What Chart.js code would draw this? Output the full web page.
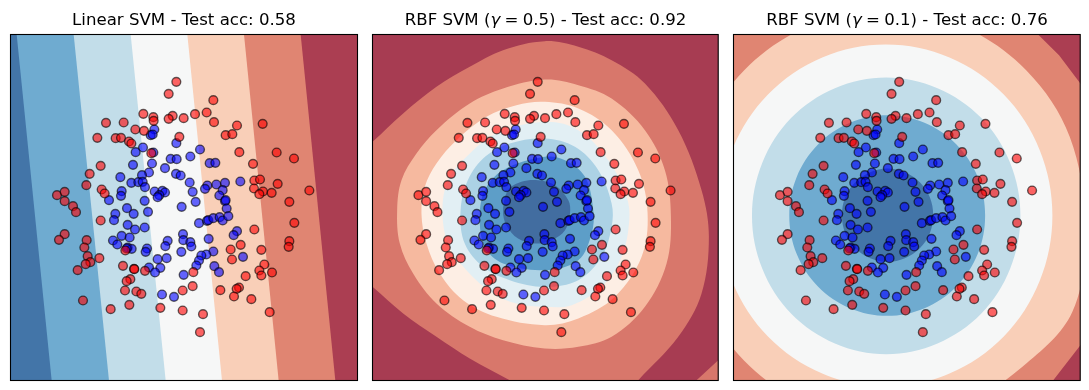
<!DOCTYPE html>
<html lang="en">
<head>
<meta charset="UTF-8">
<title>SVM decision boundaries</title>
<script src="https://cdn.jsdelivr.net/npm/chart.js"></script>
<style>
    html, body { margin: 0; padding: 0; background: #fff; }
    #wrap { position: relative; width: 1089px; height: 390px; overflow: hidden; }
    canvas { position: absolute; top: 0; }
    .title {
        position: absolute; top: 10px; height: 20px; line-height: 20px;
        font-family: "DejaVu Sans", sans-serif; font-size: 16.6px;
        text-align: center; white-space: nowrap; color: #000;
    }
    .title span { margin: 0 -1px; }
</style>
</head>
<body>
<div id="wrap">
    <canvas id="c1" width="365" height="390" style="left:0"></canvas>
    <canvas id="c2" width="362" height="390" style="left:362px"></canvas>
    <canvas id="c3" width="362" height="390" style="left:724px"></canvas>
    <div class="title" style="left:10.5px;width:347px">Linear SVM - Test acc: 0.58</div>
    <div class="title" style="left:372.5px;width:346px">RBF SVM (<i>γ</i><span> = </span>0.5) - Test acc: 0.92</div>
    <div class="title" style="left:733.5px;width:347px">RBF SVM (<i>γ</i><span> = </span>0.1) - Test acc: 0.76</div>
</div>
<script>
// samples, same in all three panels
const redX = [-0.23,-0.46,0.88,-1.22,-0.92,-0.91,-0.34,-0.46,-0.01,0.33,0.68,0.90,-2.34,-1.81,-1.46,-1.20,1.59,2.36,1.25,1.45,-2.60,-2.05,-1.89,-1.65,-1.58,-0.14,-0.98,1.66,2.78,3.30,2.07,-2.50,-2.83,-2.93,2.11,2.28,2.81,2.10,2.37,2.26,2.63,3.76,-2.47,-2.38,-3.81,-3.58,-3.58,-3.33,-3.24,3.16,-2.50,3.31,2.11,-3.58,-3.75,-2.92,-2.99,3.16,3.14,-2.89,-2.54,-2.81,-2.95,-3.19,1.40,1.70,2.32,1.44,2.41,2.26,2.64,2.32,1.85,-1.83,-1.50,-1.49,-1.17,0.28,-1.61,-1.72,-1.77,-1.43,-1.28,0.26,-0.04,1.09,1.65,1.58,1.50,2.02,2.57,-3.03,-2.20,-1.64,-0.71,-0.04,0.57,0.48,-1.76];
const redY = [3.77,3.41,3.22,2.81,2.71,2.60,2.75,2.66,2.68,2.80,2.85,2.56,2.54,2.55,2.34,2.30,2.46,2.51,2.17,2.20,2.09,2.08,2.09,1.98,1.92,2.12,1.63,1.66,1.65,1.47,1.31,1.25,1.01,0.67,0.81,0.84,0.71,0.57,0.48,0.40,0.44,0.51,0.54,0.42,0.37,0.47,0.19,0.04,-0.14,0.17,-0.39,-0.46,-0.66,-0.80,-0.97,-0.98,-1.20,-1.01,-1.18,-1.46,-1.52,-1.64,-1.70,-1.88,-1.26,-1.12,-1.27,-1.56,-1.71,-1.89,-1.95,-2.04,-2.06,-1.75,-1.84,-1.85,-1.90,-1.94,-2.15,-2.21,-2.49,-2.52,-2.59,-2.36,-2.49,-2.48,-2.40,-2.44,-2.67,-2.75,-3.14,-2.79,-3.05,-2.92,-3.01,-3.09,-3.20,-3.74,-1.29];
const blueX = [-0.89,-1.00,-0.94,-0.23,-1.23,-1.45,0.48,-0.92,0.19,-0.40,-0.22,-1.53,-0.96,0.77,0.94,-0.57,-1.05,-0.24,-0.10,-1.91,-1.26,-1.58,-1.37,-1.24,-1.17,0.17,0.70,0.63,0.97,1.23,1.69,1.16,-1.87,-1.89,-0.88,-0.65,-0.57,-0.74,-0.79,0.26,-2.25,-1.18,0.35,1.06,1.23,1.25,1.28,-0.07,-1.71,-1.51,-1.08,-2.06,-2.10,-1.69,-1.47,-1.18,0.45,0.69,0.73,0.88,1.07,1.16,1.33,1.59,1.49,-0.03,-1.87,-1.63,-2.13,-2.00,-0.49,-0.02,0.19,0.74,-0.56,0.22,-1.69,-1.57,-1.72,-1.11,-1.15,-0.08,0.88,0.67,0.52,1.77,-0.79,-0.52,0.45,0.37,0.91,1.05,-0.71,-1.05,-0.87,-0.01,-0.66,-0.30];
const blueY = [2.34,2.17,2.19,1.93,1.80,1.66,1.74,1.65,1.53,1.46,1.45,1.28,1.32,1.33,1.34,1.18,1.05,1.01,0.96,0.91,0.97,0.74,0.76,0.77,0.61,0.75,0.66,0.56,0.69,0.74,0.78,0.52,0.49,0.35,0.48,0.50,0.45,0.37,0.31,0.47,0.22,0.20,0.17,0.36,0.19,0.22,-0.03,0.02,-0.02,-0.19,-0.13,-0.19,-0.38,-0.52,-0.66,-0.60,-0.47,-0.40,-0.38,-0.32,-0.29,-0.39,-0.26,-0.71,-0.83,-0.80,-0.85,-0.90,-0.99,-1.11,-1.00,-0.98,-1.04,-0.94,-1.16,-1.17,-1.20,-1.24,-1.23,-1.23,-1.33,-1.33,-1.32,-1.41,-1.44,-1.48,-1.55,-1.52,-1.59,-1.74,-1.76,-1.94,-1.81,-1.80,-1.95,-2.02,-2.61,-2.68];

// linear panel: band edges where they meet the top and bottom of the frame
const linearTopX = [-5.02,-3.31,-1.60,0.10,1.80,3.50];
const linearBottomX = [-3.97,-2.25,-0.55,1.14,2.84,4.54];
const linearColors = ["#4375a8","#6fabd0","#c2dde9","#f6f7f7","#f9cfb8","#e08572","#ab3e52"];

// rbf 0.5 panel, outer to inner
const rbf5Back = [[-6,6],[6,6],[6,-6],[-6,-6]];
const rbf5Outer = [[-6.02,1.27],[-5.19,1.97],[-4.27,2.82],[-3.27,3.62],[-2.27,4.22],[-1.27,4.72],[-0.02,4.99],[0.99,4.82],[1.99,4.42],[2.99,3.72],[3.99,2.32],[4.69,0.52],[4.91,-0.88],[4.69,-2.58],[3.99,-3.88],[2.79,-5.18],[2.39,-5.61],[-0.42,-5.53],[-1.07,-5.18],[-2.27,-4.53],[-3.27,-3.88],[-4.27,-3.18],[-5.19,-2.38],[-6.02,-1.68]];
const rbf5Corner = [[4.08,-5.58],[4.54,-5.18],[5.19,-4.58],[5.6,-4.2],[5.6,-5.6]];
const rbf5Salmon = [[-4.45,-0.08],[-4.32,0.82],[-3.87,1.62],[-3.27,2.32],[-2.27,3.12],[-1.27,3.57],[-0.02,3.84],[0.99,3.67],[1.99,3.27],[2.99,2.32],[3.59,1.12],[3.77,-0.28],[3.64,-1.68],[2.99,-2.98],[1.99,-3.88],[0.99,-4.18],[-0.02,-4.23],[-1.27,-3.98],[-2.27,-3.58],[-3.27,-2.88],[-3.97,-1.98],[-4.37,-1.08]];
const rbf5Cream = [[-3.72,-0.18],[-3.62,0.62],[-3.27,1.32],[-2.67,2.02],[-1.77,2.72],[-0.87,3.07],[-0.02,3.17],[0.99,2.97],[1.99,2.32],[2.79,1.12],[3.07,-0.18],[2.89,-1.48],[2.09,-2.68],[0.99,-3.33],[-0.02,-3.53],[-1.47,-3.28],[-2.47,-2.78],[-3.17,-1.98],[-3.57,-1.08]];
const rbf5Pale = [[-3.09,-0.08],[-2.92,0.82],[-2.37,1.52],[-1.47,2.22],[-0.02,2.57],[0.99,2.32],[1.89,1.42],[2.44,0.32],[2.52,-0.38],[2.29,-1.48],[1.69,-2.38],[0.79,-2.93],[-0.02,-2.98],[-0.87,-2.88],[-1.57,-2.58],[-2.37,-1.88],[-2.92,-1.08]];
const rbf5Light = [[-2.55,-0.18],[-2.37,0.72],[-1.87,1.47],[-1.07,1.92],[-0.02,2.07],[0.89,1.82],[1.59,1.12],[1.99,0.12],[1.99,-0.58],[1.69,-1.48],[0.99,-2.18],[-0.02,-2.38],[-1.07,-2.18],[-1.87,-1.78],[-2.42,-1.08]];
const rbf5Mid = [[-1.97,-0.28],[-1.82,0.52],[-1.27,1.12],[-0.02,1.52],[0.59,1.42],[1.19,0.92],[1.44,-0.08],[1.39,-0.78],[0.99,-1.58],[-0.02,-1.88],[-1.27,-1.68],[-1.82,-1.18]];
const rbf5Core = [[-1.27,-0.08],[-1.12,0.52],[-0.72,0.77],[-0.22,0.82],[0.29,0.67],[0.69,0.22],[0.74,-0.18],[0.59,-0.68],[0.19,-0.98],[-0.32,-1.08],[-0.82,-0.93],[-1.17,-0.53]];

// rbf 0.1 panel, outer to inner
const rbf1Back = [[-6,6],[6,6],[6,-6],[-6,-6]];
const rbf1CornerTop = [[3.47,5.62],[3.94,5.19],[4.57,4.57],[5.21,3.72],[5.6,3.2],[5.6,5.6]];
const rbf1CornerBottom = [[4.07,-5.6],[4.39,-5.19],[5.21,-4.13],[5.6,-3.6],[5.6,-5.6]];
const rbf1Peach = [[5.35,-0.58],[4.89,2.12],[3.59,4.11],[1.65,5.44],[-0.65,5.91],[-2.95,5.44],[-4.89,4.11],[-6.19,2.12],[-6.65,-0.24],[-6.19,-2.60],[-4.89,-4.59],[-2.95,-5.92],[-0.65,-6.39],[1.65,-5.92],[3.47,-4.78],[4.97,-3.13]];
const rbf1White = [[4.37,-0.24],[3.99,1.72],[2.91,3.39],[1.28,4.50],[-0.63,4.89],[-2.54,4.50],[-4.17,3.39],[-5.25,1.72],[-5.63,-0.24],[-5.25,-2.20],[-4.17,-3.87],[-2.54,-4.98],[-0.63,-5.37],[1.28,-4.98],[2.91,-3.87],[3.99,-2.20]];
const rbf1Light = [[3.41,-0.25],[3.10,1.34],[2.23,2.69],[0.92,3.58],[-0.62,3.90],[-2.16,3.58],[-3.47,2.69],[-4.34,1.34],[-4.65,-0.25],[-4.34,-1.84],[-3.47,-3.19],[-2.16,-4.08],[-0.62,-4.40],[0.92,-4.08],[2.23,-3.19],[3.10,-1.84]];
const rbf1Mid = [[2.35,-0.24],[2.13,0.91],[1.49,1.89],[0.53,2.54],[-0.59,2.77],[-1.71,2.54],[-2.67,1.89],[-3.31,0.91],[-3.53,-0.24],[-3.31,-1.39],[-2.67,-2.37],[-1.71,-3.02],[-0.59,-3.25],[0.53,-3.02],[1.49,-2.37],[2.13,-1.39]];
const rbf1Core = [[0.79,-0.23],[0.69,0.31],[0.39,0.76],[-0.06,1.06],[-0.58,1.17],[-1.10,1.06],[-1.55,0.76],[-1.85,0.31],[-1.95,-0.23],[-1.85,-0.77],[-1.55,-1.22],[-1.10,-1.52],[-0.58,-1.63],[-0.06,-1.52],[0.39,-1.22],[0.69,-0.77]];

function toPoints(list) {
    return list.map(p => ({ x: p[0], y: p[1] }));
}

// curved bands repeat their ends so the spline closes without a kink
function band(list, color, tension) {
    const n = list.length;
    const loop = tension ? [list[n - 1], ...list, list[0], list[1]] : list;
    return { data: toPoints(loop), color: color, tension: tension };
}

const frameBox = {
    id: "frameBox",
    afterDatasetsDraw(chart) {
        const a = chart.chartArea, ctx = chart.ctx;
        ctx.save();
        ctx.strokeStyle = "#000";
        ctx.lineWidth = 1.1;
        ctx.strokeRect(a.left, a.top, a.right - a.left, a.bottom - a.top);
        ctx.restore();
    }
};

function drawPanel(id, bands, pad, xHalf, yHalf) {
    const datasets = [];
    bands.forEach((b, i) => {
        datasets.push({
            data: b.data,
            showLine: true,
            fill: "shape",
            tension: b.tension,
            capBezierPoints: false,
            backgroundColor: b.color,
            borderColor: b.color,
            borderWidth: 0,
            pointRadius: 0,
            order: 100 - i
        });
    });
    // samples on top of the bands
    [[blueX, blueY, "rgba(0,0,255,0.6)", 2], [redX, redY, "rgba(255,0,0,0.6)", 1]].forEach(s => {
        datasets.push({
            data: s[0].map((x, i) => ({ x: x, y: s[1][i] })),
            backgroundColor: s[2],
            borderColor: "rgba(0,0,0,0.6)",
            borderWidth: 1.39,
            pointRadius: 4.4,
            order: s[3]
        });
    });
    new Chart(document.getElementById(id), {
        type: "scatter",
        data: { datasets: datasets },
        options: {
            responsive: false,
            animation: false,
            events: [],
            layout: { padding: pad },
            plugins: { legend: { display: false }, tooltip: { enabled: false } },
            scales: {
                x: { display: false, min: -xHalf, max: xHalf },
                y: { display: false, min: -yHalf, max: yHalf }
            }
        },
        plugins: [frameBox]
    });
}

// linear panel bands come from the two edge lists
const linearBands = [band([[-6,6],[6,6],[6,-6],[-6,-6]], linearColors[0], 0)];
linearTopX.forEach((top, i) => {
    linearBands.push(band([[top,5.19],[linearBottomX[i],-5.19],[6,-5.19],[6,5.19]], linearColors[i + 1], 0));
});

drawPanel("c1", linearBands, { left: 10.5, right: 7.5, top: 34.5, bottom: 9.5 }, 5.205, 5.19);

drawPanel("c2", [
    band(rbf5Back, "#a73c52", 0),
    band(rbf5Outer, "#d8776b", 0.35),
    band(rbf5Corner, "#d8776b", 0),
    band(rbf5Salmon, "#f6b99f", 0.35),
    band(rbf5Cream, "#fdeee4", 0.35),
    band(rbf5Pale, "#e2eff4", 0.35),
    band(rbf5Light, "#acd2e5", 0.35),
    band(rbf5Mid, "#5d9ec8", 0.35),
    band(rbf5Core, "#426da0", 0.35)
], { left: 10.5, right: 5.5, top: 34.5, bottom: 9.5 }, 5.19, 5.19);

drawPanel("c3", [
    band(rbf1Back, "#e08572", 0),
    band(rbf1CornerTop, "#ab3e52", 0),
    band(rbf1CornerBottom, "#ab3e52", 0),
    band(rbf1Peach, "#f9cfb8", 0.35),
    band(rbf1White, "#f6f7f7", 0.35),
    band(rbf1Light, "#c2dde9", 0.35),
    band(rbf1Mid, "#6fabd0", 0.35),
    band(rbf1Core, "#4375a8", 0.35)
], { left: 9.5, right: 5.5, top: 34.5, bottom: 9.5 }, 5.205, 5.19);
</script>
</body>
</html>
